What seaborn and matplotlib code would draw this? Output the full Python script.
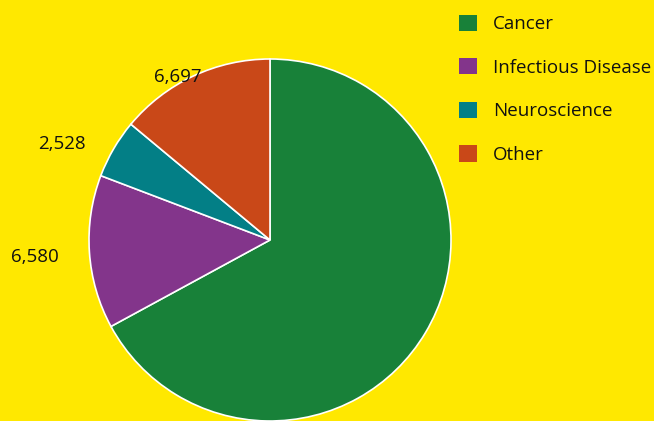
import numpy as np
import matplotlib
matplotlib.use("Agg")
import matplotlib.pyplot as plt
import matplotlib.patches as mpatches
import seaborn as sns

categories = ["Cancer", "Infectious Disease", "Neuroscience", "Other"]
values = [32200, 6580, 2528, 6697]
value_labels = ["", "6,580", "2,528", "6,697"]
colors = ["#188139", "#83358B", "#037F86", "#C94818"]

sns.set_theme(style="white")
plt.rcParams["font.family"] = ["Open Sans", "DejaVu Sans"]

W, H = 654, 421
fig = plt.figure(figsize=(W / 100, H / 100), dpi=100)
bg = "#FFE800"
fig.patch.set_facecolor(bg)

cx, cy, r = 270, 240, 181  # pixel coords, y from top
ax = fig.add_axes([(cx - r) / W, (H - cy - r) / H, 2 * r / W, 2 * r / H])
ax.patch.set_alpha(0)

wedges, _ = ax.pie(values, colors=colors, startangle=90, counterclock=False,
                   wedgeprops=dict(edgecolor="white", linewidth=1.2))
ax.set_xlim(-1, 1)
ax.set_ylim(-1, 1)
ax.set_aspect("equal")
ax.axis("off")

# label placement (distance, angle offset) per wedge
label_dist = [0, 1.30, 1.265, 1.035]
label_dang = [0, 0.2, 5.5, 4.5]
for w, lab, d, da in zip(wedges, value_labels, label_dist, label_dang):
    if not lab:
        continue
    a = np.deg2rad((w.theta1 + w.theta2) / 2 + da)
    ax.text(d * np.cos(a), d * np.sin(a), lab, ha="center", va="center",
            fontsize=13.5, color="#111111", clip_on=False)

handles = [mpatches.Patch(facecolor=c, edgecolor="none") for c in colors]
fig.legend(handles, categories, loc="upper left",
           bbox_to_anchor=(459 / W, 1 - 14.5 / H), frameon=False,
           fontsize=13.5, handlelength=0.95, handleheight=0.95,
           handletextpad=0.85, labelspacing=1.34, borderpad=0, borderaxespad=0,
           labelcolor="#111111")

fig.savefig("out.png", dpi=100, facecolor=bg)
